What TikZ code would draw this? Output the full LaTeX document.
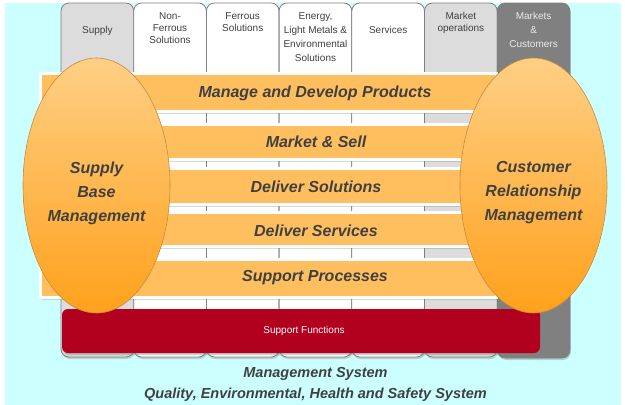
\documentclass[tikz,border=0pt]{standalone}
\usepackage{fontspec}
\setmainfont{Liberation Sans}
\usetikzlibrary{shapes.geometric,shadows}

\definecolor{bgcyan}{HTML}{CCFFFF}
\definecolor{colline}{HTML}{7F7F7F}
\definecolor{collight}{HTML}{DCDCDC}
\definecolor{coldark}{HTML}{808080}
\definecolor{barorange}{HTML}{FFBF5F}
\definecolor{ovaltop}{HTML}{FFCF85}
\definecolor{ovalbottom}{HTML}{FFA11C}
\definecolor{ovalline}{HTML}{C98A3E}
\definecolor{supred}{HTML}{B2001F}
\definecolor{txtgray}{HTML}{404040}

\begin{document}
\begin{tikzpicture}[x=1pt, y=-1pt,
  column/.style={draw=colline, line width=0.8pt, rounded corners=8pt,
    drop shadow={shadow xshift=1pt, shadow yshift=-2pt, opacity=0.35}},
  collabel/.style={anchor=north, inner sep=0pt, align=center, text=txtgray,
    font=\fontsize{10}{12}\selectfont},
  bar/.style={fill=barorange, draw=white, line width=3pt,
    drop shadow={shadow xshift=1pt, shadow yshift=-2pt, opacity=0.3}},
  bartext/.style={inner sep=0pt, text=txtgray,
    font=\fontsize{16}{16}\selectfont\bfseries\itshape},
  oval/.style={ellipse, minimum width=147pt, minimum height=255pt, inner sep=0pt,
    top color=ovaltop, bottom color=ovalbottom, draw=ovalline, line width=0.6pt},
  ovaltext/.style={inner sep=0pt, align=center, text=txtgray,
    font=\fontsize{16}{24}\selectfont\bfseries\itshape},
  systext/.style={inner sep=0pt, text=txtgray,
    font=\fontsize{14.5}{14.5}\selectfont\bfseries\itshape}]

  \useasboundingbox (0,0) rectangle (625,405);
  % --- Background ---
  \fill[white] (0,0) rectangle (625,405);
  \fill[bgcyan] (5,3) rectangle (621,405);

  % --- Columns ---
  \draw[column, fill=collight] (61,3) rectangle (133.7,357);
  \draw[column, fill=white] (133.7,3) rectangle (206.4,357);
  \draw[column, fill=white] (206.4,3) rectangle (279.1,357);
  \draw[column, fill=white] (279.1,3) rectangle (351.8,357);
  \draw[column, fill=white] (351.8,3) rectangle (424.5,357);
  \draw[column, fill=collight] (424.5,3) rectangle (497.2,357);
  \draw[column, fill=coldark] (497.2,3) rectangle (569.9,358);

  % column labels
  \node[collabel] (supply) at (97.4,26.5) {Supply};
  \node[collabel] (nonferrous) at (170.0,12) {Non-\\Ferrous\\Solutions};
  \node[collabel] (ferrous) at (242.7,12) {Ferrous\\Solutions};
  \node[collabel, font=\fontsize{10}{14}\selectfont] (energy) at (315.5,12)
    {Energy,\\Light Metals \&\\Environmental\\Solutions};
  \node[collabel] (services) at (388.2,26.5) {Services};
  \node[collabel] (marketops) at (460.9,12) {Market\\operations};
  \node[collabel, text=white!92!black, font=\fontsize{10}{14}\selectfont]
    (markets) at (533.6,12) {Markets\\\&\\Customers};

  % --- Process bars ---
  \draw[bar] (40.5,73.5) rectangle (496.5,111.5);
  \draw[bar] (40.5,124.5) rectangle (496.5,159.5);
  \draw[bar] (40.5,168.5) rectangle (496.5,204.5);
  \draw[bar] (40.5,212.5) rectangle (496.5,246.5);
  \draw[bar] (40.5,259.5) rectangle (496.5,297.5);
  \node[bartext] (manage) at (315,93) {Manage and Develop Products};
  \node[bartext] (sell) at (316,142) {Market \& Sell};
  \node[bartext] (solutions) at (316,187) {Deliver Solutions};
  \node[bartext] (deliverserv) at (316,230.5) {Deliver Services};
  \node[bartext] (supportproc) at (315,277.5) {Support Processes};

  % --- Support functions ---
  \fill[rounded corners=6pt, fill=supred,
    drop shadow={shadow xshift=1pt, shadow yshift=-2pt, opacity=0.4}]
    (62,309) rectangle (540,353);
  \node[inner sep=0pt, text=white, font=\fontsize{10}{10}\selectfont]
    (supportfn) at (304,331) {Support Functions};

  % --- Side ovals ---
  \node[oval] (sbm) at (96.5,185.5) {};
  \node[ovaltext] (sbmtext) at ([yshift=-7.5pt]sbm.center) {Supply\\Base\\Management};
  \node[oval] (crm) at (533.5,185.5) {};
  \node[ovaltext] (crmtext) at ([yshift=-7.5pt]crm.center) {Customer\\Relationship\\Management};

  % --- Systems ---
  \node[systext] (mgmt) at (315.5,373.5) {Management System};
  \node[systext] (qehs) at (315.5,394.5) {Quality, Environmental, Health and Safety System};
\end{tikzpicture}
\end{document}
